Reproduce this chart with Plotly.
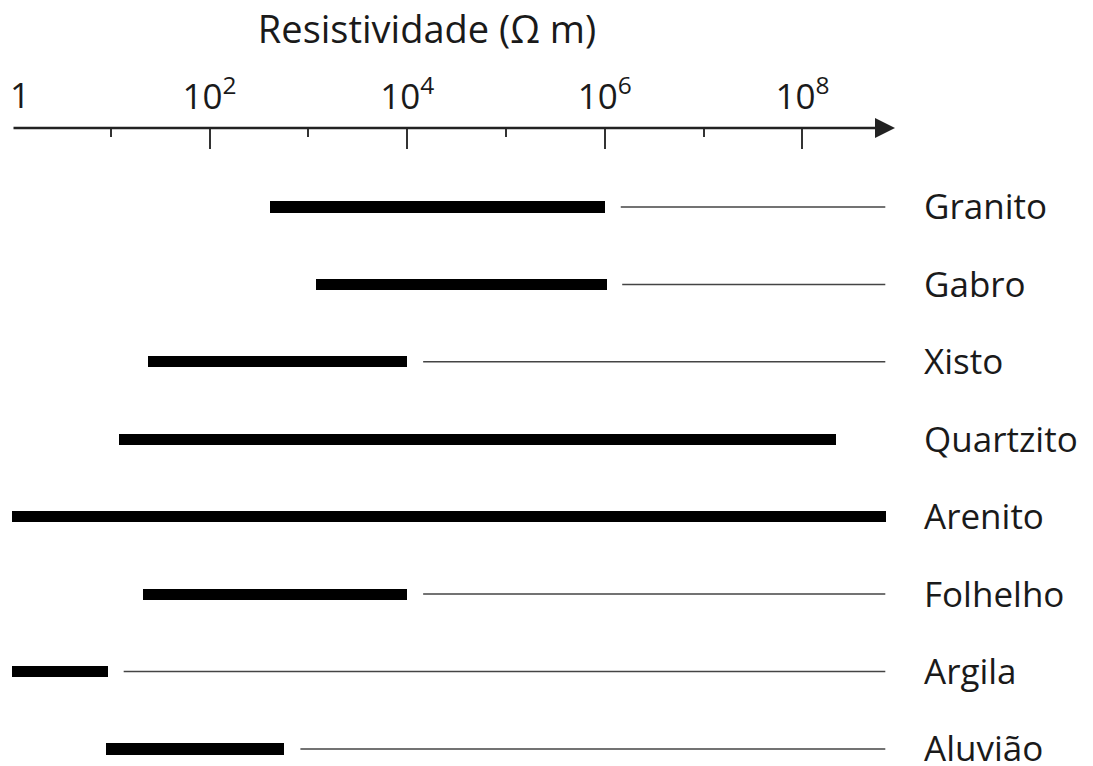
import plotly.graph_objects as go

# Electrical resistivity ranges of common rocks (ohm·m)
rocks = ["Granito", "Gabro", "Xisto", "Quartzito", "Arenito", "Folhelho", "Argila", "Aluvião"]
res_low = [4.1e2, 1.2e3, 24, 12, 1, 21, 1, 9]
res_high = [1.0e6, 1.05e6, 1.0e4, 2.2e8, 7.0e8, 1.0e4, 9.4, 5.7e2]

# thin guide lines leading to each rock name (None = no guide)
guide_start = [1.45e6, 1.5e6, 1.45e4, None, None, 1.45e4, 13.5, 8.3e2]
guide_end = 6.9e8

major_ticks = [1, 1e2, 1e4, 1e6, 1e8]
major_text = ["1", "10<sup>2</sup>", "10<sup>4</sup>", "10<sup>6</sup>", "10<sup>8</sup>"]
minor_ticks = [1e1, 1e3, 1e5, 1e7]

FONT = "Open Sans"
INK = "#1a1a1a"

fig = go.Figure()

# thick bars: resistivity ranges
fig.add_trace(go.Bar(
    y=rocks,
    x=[hi - lo for lo, hi in zip(res_low, res_high)],
    base=res_low,
    orientation="h",
    width=0.145,
    marker=dict(color="black", line=dict(width=0)),
    hoverinfo="skip",
    showlegend=False,
))

# thin guide lines
gx, gy = [], []
for rock, gs in zip(rocks, guide_start):
    if gs is None:
        continue
    gx += [gs, guide_end, None]
    gy += [rock, rock, None]
fig.add_trace(go.Scatter(
    x=gx, y=gy, mode="lines",
    line=dict(color="#444444", width=1.5),
    hoverinfo="skip", showlegend=False,
))

# axis line with arrow head
fig.add_annotation(
    x=1, y=1, xref="paper", yref="paper",
    ax=-883, ay=0, axref="pixel", ayref="pixel",
    text="", showarrow=True,
    arrowhead=2, arrowsize=1.6, arrowwidth=2.5, arrowcolor="#222222",
)

# the origin label sits just right of its tick, others are centred on axis ticks
tick_text_axis = [""] + major_text[1:]
fig.add_annotation(
    x=0, y=1, xref="x", yref="paper",
    xanchor="left", yanchor="bottom", xshift=-4, yshift=8,
    text=major_text[0], showarrow=False,
    font=dict(family=FONT, size=35, color=INK),
)

# rock names to the right of the guides
for rock in rocks:
    fig.add_annotation(
        x=1.031, y=rock, xref="paper", yref="y",
        xanchor="left", yanchor="middle", yshift=1,
        text=rock, showarrow=False,
        font=dict(family=FONT, size=35, color=INK),
    )

fig.update_layout(
    width=1093, height=766,
    margin=dict(l=12, r=198, t=128, b=0, autoexpand=False),
    paper_bgcolor="white", plot_bgcolor="white",
    font=dict(family=FONT, color=INK, size=35),
    title=dict(
        text="Resistividade (Ω m)",
        x=427 / 1093, xref="container", xanchor="center",
        y=1 - 30 / 766, yref="container", yanchor="middle",
        font=dict(family=FONT, size=38, color=INK),
    ),
    bargap=0,
)

fig.update_xaxes(
    type="log", range=[0, 8.937], side="top", automargin=False,
    showline=False, showgrid=False, zeroline=False,
    tickvals=major_ticks, ticktext=tick_text_axis,
    ticks="inside", ticklen=21, tickwidth=2, tickcolor="#333333",
    tickfont=dict(family=FONT, size=35, color=INK),
    ticklabelstandoff=11,
    minor=dict(tickvals=minor_ticks, ticks="inside", ticklen=9,
               tickwidth=2, tickcolor="#333333", showgrid=False),
)

fig.update_yaxes(
    type="category", categoryorder="array", categoryarray=rocks,
    range=[7.22, -1.02], automargin=False,
    showline=False, showgrid=False, zeroline=False, ticks="",
    showticklabels=False,
)

fig.write_html("out.html")
